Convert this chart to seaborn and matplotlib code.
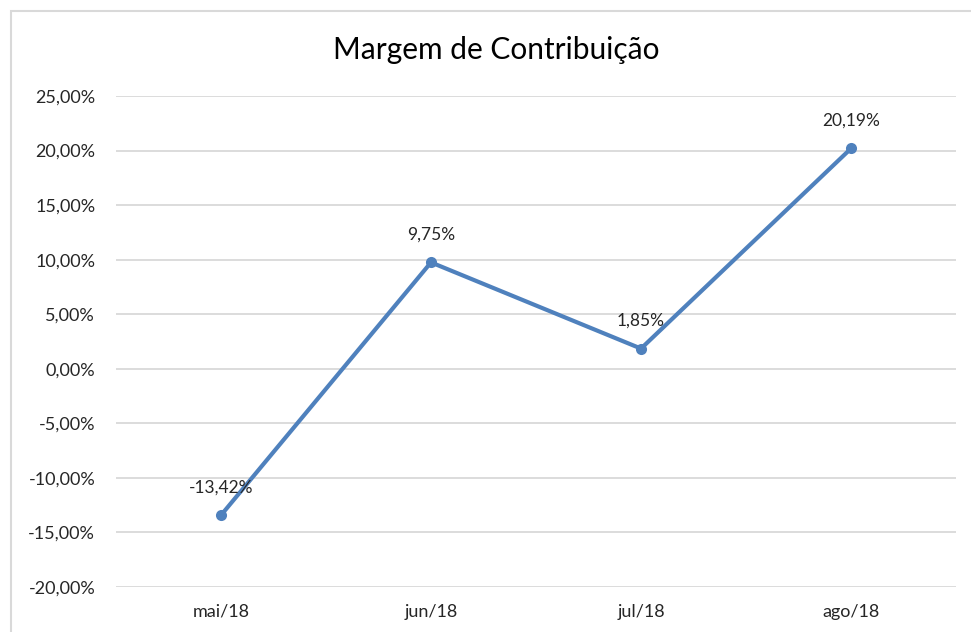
import numpy as np
import pandas as pd
import seaborn as sns
import matplotlib.pyplot as plt
from matplotlib.patches import Rectangle
from matplotlib.ticker import FuncFormatter

meses = ['mai/18', 'jun/18', 'jul/18', 'ago/18']
margem = [-13.42, 9.75, 1.85, 20.19]
yticks = [-20, -15, -10, -5, 0, 5, 10, 15, 20, 25]

sns.set_style('white')
plt.rcParams['font.family'] = ['Lato', 'DejaVu Sans']

df = pd.DataFrame({'mes': meses, 'margem': margem})
df['pos'] = np.arange(len(meses))

fig = plt.figure(figsize=(9.71, 6.32), dpi=100)
ax = fig.add_axes([116 / 971, 45 / 632, 840 / 971, 491 / 632])

cor = '#4F81BD'
sns.lineplot(data=df, x='pos', y='margem', ax=ax, color=cor, linewidth=3,
             marker='o', markersize=8, markeredgewidth=0)

# rotulos de dados acima de cada ponto
for x, y in zip(df['pos'], df['margem']):
    ax.annotate('{:.2f}%'.format(y).replace('.', ','), (x, y), xytext=(0, 20),
                textcoords='offset points', ha='center', va='center',
                fontsize=12.5, color='#262626')

ax.set_xlim(-0.5, len(meses) - 0.5)
ax.set_ylim(min(yticks), max(yticks))
ax.set_yticks(yticks)
ax.yaxis.set_major_formatter(FuncFormatter(lambda v, p: '{:.2f}%'.format(v).replace('.', ',')))
ax.set_xticks(df['pos'])
ax.set_xticklabels(meses)
ax.tick_params(axis='both', labelsize=13, colors='#262626', length=0)
ax.tick_params(axis='y', pad=15)
ax.tick_params(axis='x', pad=12)
ax.grid(axis='y', color='#D9D9D9', linewidth=1.3)
ax.set_axisbelow(True)
for s in ax.spines.values():
    s.set_visible(False)
ax.set_xlabel('')
ax.set_ylabel('')

fig.text(496 / 971, 1 - 50 / 632, 'Margem de Contribuição', ha='center', va='center',
         fontsize=21.5, color='#000000')

# borda do grafico (cortada a direita e embaixo)
fig.patches.append(Rectangle((11 / 971, -0.05), 1.1, 1 - 11 / 632 + 0.05,
                             transform=fig.transFigure, fill=False,
                             edgecolor='#D9D9D9', linewidth=1.5))

fig.savefig('out.png', dpi=100)
